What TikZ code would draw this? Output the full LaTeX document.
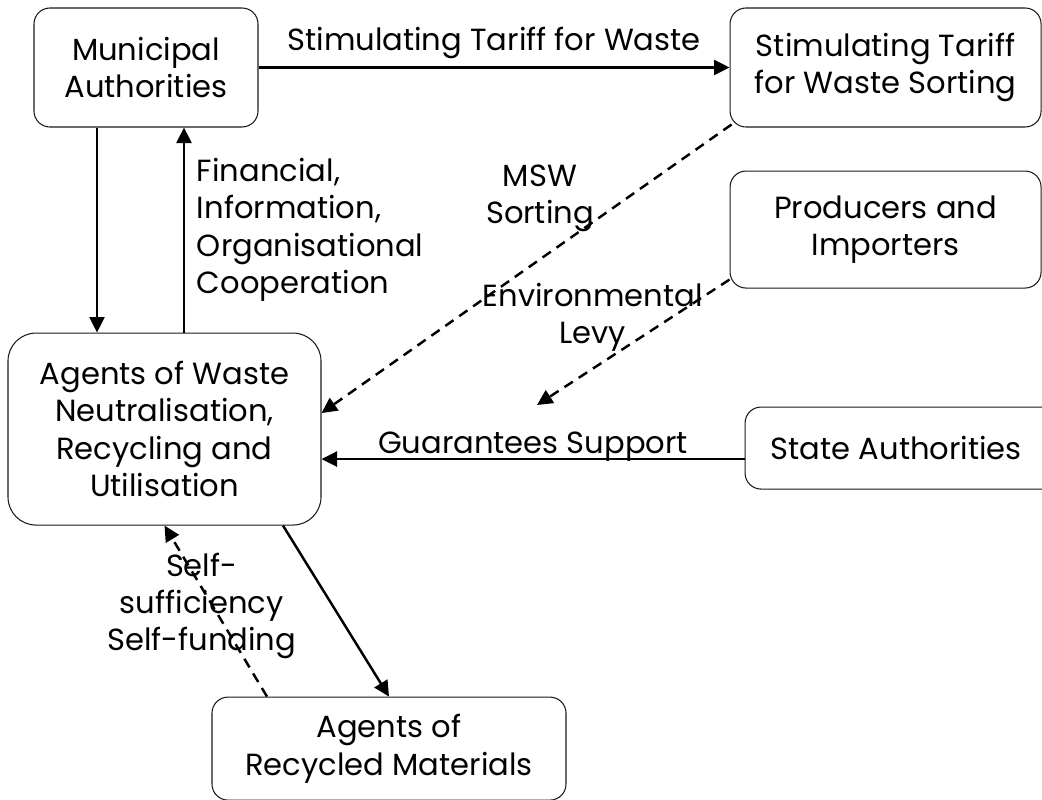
\documentclass[tikz,border=0pt]{standalone}
\usepackage{fontspec}
\setsansfont{Poppins}
\usetikzlibrary{arrows.meta, positioning, calc}
\definecolor{bordeCaja}{HTML}{1A1A1A}
\definecolor{lineaFlujo}{HTML}{000000}

\begin{document}
\begin{tikzpicture}[
        caja/.style={draw=bordeCaja, line width=0.6pt, rounded corners=0.32cm, inner sep=0pt,
            align=center, font=\sffamily\fontsize{17.4}{21.3}\selectfont},
        rel/.style={-{Triangle[length=3.1mm,width=3mm]}, lineaFlujo, line width=1.4pt},
        reld/.style={rel, dash pattern=on 2mm off 1.4mm},
        etq/.style={font=\sffamily\fontsize{17.4}{21.3}\selectfont, inner sep=1pt}
    ]
        \useasboundingbox (0,0) rectangle (20.84,-16);
        \node[caja, minimum width=4.48cm, minimum height=2.38cm] (muni) at (2.92,-1.35) {Municipal\\Authorities};
        \node[caja, minimum width=6.22cm, minimum height=2.38cm, right=9.42cm of muni] (tarifa) {Stimulating Tariff\\for Waste Sorting};
        \node[caja, minimum width=6.22cm, minimum height=2.34cm, below=0.86cm of tarifa] (prod) {Producers and\\Importers};
        \node[caja, minimum width=6.26cm, minimum height=3.84cm, rounded corners=0.56cm,
            below=4.1cm of muni, xshift=0.37cm] (agentes) {Agents of Waste\\Neutralisation,\\Recycling and\\Utilisation};
        \node[caja, minimum width=6.3cm, minimum height=1.64cm, right=8.46cm of agentes, yshift=-0.38cm] (estado) {\hspace*{-0.25cm}State Authorities};
        \node[caja, minimum width=7.08cm, minimum height=2.06cm, below=3.42cm of agentes, xshift=4.49cm] (recic) {Agents of\\Recycled Materials};
        \coordinate (finTasa) at (10.74,-8.1);

        \draw[rel] (muni) -- node[etq, above=0.12cm]{Stimulating Tariff for Waste} (tarifa);
        \draw[rel] ([xshift=-0.98cm]muni.south) -- ([xshift=-0.98cm]muni.south |- agentes.north);
        \draw[rel] ([xshift=0.76cm]muni.south |- agentes.north) -- node[etq, right=0.2cm, align=left]{Financial,\\Information,\\Organisational\\Cooperation} ([xshift=0.76cm]muni.south);
        \draw[reld] ([shift={(0.04cm,0.06cm)}]tarifa.south west) -- node[etq, pos=0.255, xshift=-1.74cm, align=center]{MSW\\Sorting} ([yshift=0.32cm]agentes.east);
        \draw[reld] ([yshift=0.18cm]prod.south west) -- node[etq, pos=0.3, xshift=-1.58cm, align=center]{Environmental\\Levy} (finTasa);
        \draw[rel] ([yshift=-0.22cm]estado.west) -- node[etq, anchor=base, yshift=0.12cm]{Guarantees Support} ([yshift=-0.22cm]estado.west -| agentes.east);
        \draw[rel] ([xshift=2.37cm]agentes.south) -- (recic.north);
        \draw[reld] ([xshift=-2.44cm]recic.north) -- node[etq, pos=0.53, xshift=-0.22cm, align=center]{Self-\\sufficiency\\Self-funding} (agentes.south);
    \end{tikzpicture}
\end{document}
